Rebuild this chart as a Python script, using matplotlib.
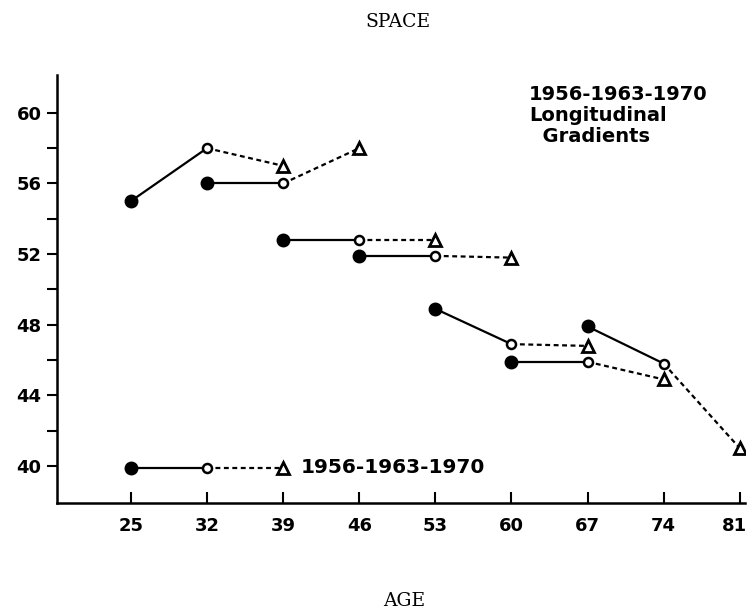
import matplotlib.pyplot as plt
import matplotlib.transforms as mtransforms
import numpy as np

# cohort entry ages (1956) and scores at 1956, 1963, 1970
ages = np.array([25, 32, 39, 46, 53, 60, 67])
space_1956 = [55.0, 56.0, 52.8, 51.9, 48.9, 45.9, 47.9]
space_1963 = [58.0, 56.0, 52.8, 51.9, 46.9, 45.9, 45.8]
space_1970 = [57.0, 58.0, 52.8, 51.8, 46.8, 44.9, 41.0]

# key example drawn inside the plot
key_ages = [25, 32, 39]
key_value = 39.9

x_ticks = [25, 32, 39, 46, 53, 60, 67, 74, 81]
y_ticks = [40, 44, 48, 52, 56, 60]

lab_font = 'DejaVu Sans'

fig = plt.figure(figsize=(7.49, 6.16), dpi=100)
ax = fig.add_axes([0.076, 0.1834, 0.919, 0.695])

lw = 1.6
dash = (0, (2.2, 1.6))
for i, a in enumerate(ages):
    ax.plot([a, a + 7], [space_1956[i], space_1963[i]], color='black', lw=lw, zorder=2)
    ax.plot([a + 7, a + 14], [space_1963[i], space_1970[i]], color='black', lw=lw,
            ls=dash, zorder=2)

ax.plot(ages, space_1956, 'o', color='black', ms=9, zorder=3)
ax.plot(ages + 7, space_1963, 'o', mfc='white', mec='black', mew=1.8, ms=6.5, zorder=3)
ax.plot(ages + 14, space_1970, '^', mfc='white', mec='black', mew=2.0, ms=9, zorder=3)

# key
ax.plot(key_ages[:2], [key_value] * 2, color='black', lw=lw)
ax.plot(key_ages[1:], [key_value] * 2, color='black', lw=lw, ls=dash)
ax.plot(key_ages[0], key_value, 'o', color='black', ms=9, zorder=3)
ax.plot(key_ages[1], key_value, 'o', mfc='white', mec='black', mew=1.8, ms=6.5, zorder=3)
ax.plot(key_ages[2], key_value, '^', mfc='white', mec='black', mew=2.0, ms=9, zorder=3)
ax.text(40.6, key_value, '1956-1963-1970', fontsize=14.5, fontweight='bold',
        family=lab_font, va='center', ha='left')

ax.text(61.6, 61.6, '1956-1963-1970\nLongitudinal\n  Gradients', fontsize=14,
        fontweight='bold', family=lab_font, va='top', ha='left', linespacing=1.15)

ax.set_xlim(18.2, 81.5)
ax.set_ylim(37.9, 62.15)
ax.set_xticks(x_ticks)
ax.set_yticks(y_ticks)
ax.set_yticks([42, 46, 50, 54, 58], minor=True)
for lbl in ax.get_xticklabels() + ax.get_yticklabels():
    lbl.set_fontweight('bold')
    lbl.set_family(lab_font)
    lbl.set_fontsize(13)

ax.tick_params(axis='x', direction='in', length=8, width=1.5, pad=10)
ax.tick_params(axis='y', which='both', direction='out', length=7, width=1.5, pad=4)
ax.spines['top'].set_visible(False)
ax.spines['right'].set_visible(False)
ax.spines['left'].set_linewidth(1.8)
ax.spines['bottom'].set_linewidth(1.8)

# last x label sits at the figure edge: nudge it left a little
last = ax.get_xticklabels()[-1]
last.set_transform(last.get_transform() + mtransforms.ScaledTranslation(-5 / 100, 0, fig.dpi_scale_trans))

fig.text(0.531, 0.965, 'SPACE', ha='center', va='center', fontsize=13.5, family='DejaVu Serif')
fig.text(0.539, 0.025, 'AGE', ha='center', va='center', fontsize=13.5, family='DejaVu Serif')

fig.savefig('out.png', dpi=100)
